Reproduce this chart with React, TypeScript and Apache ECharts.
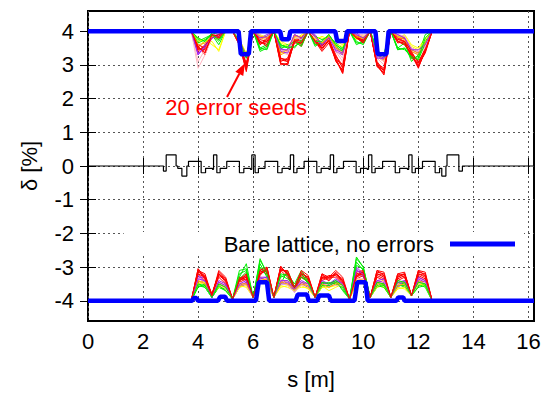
import React, { useEffect, useRef } from 'react';
import * as echarts from 'echarts';

const FONT = '"Liberation Sans", Arial, Helvetica, sans-serif';

const X_TICKS = [0, 2, 4, 6, 8, 10, 12, 14, 16];
const Y_TICKS = [-4, -3, -2, -1, 0, 1, 2, 3, 4];
const X_MIN = 0;
const X_MAX = 16.2;
const Y_MIN = -4.6;
const Y_MAX = 4.6;

const LEGEND_NAME = 'Bare lattice, no errors';
const ANNOTATION = '20 error seeds';
const ARROW_TIP = [5.7, 3.05];
const ARROW_TAIL = [5.05, 2.05];
const LABEL_AT = [5.38, 1.73];

// Bare lattice (no errors): momentum acceptance, upper and lower
const BARE_TOP = [
  [0, 4], [5.47, 4], [5.55, 3.32], [5.84, 3.32], [5.92, 4], [6.98, 4], [7.04, 3.76], [7.29, 3.76], [7.35, 4],
  [8.98, 4], [9.05, 3.71], [9.35, 3.71], [9.41, 4], [10.44, 4], [10.52, 3.32], [10.84, 3.32], [10.92, 4], [16.2, 4],
];
const BARE_BOTTOM = [
  [0, -4], [3.78, -4], [3.84, -3.92], [3.94, -3.92], [4.0, -4], [4.72, -4], [4.8, -3.88], [4.98, -3.88], [5.05, -4],
  [6.1, -4], [6.2, -3.45], [6.5, -3.45], [6.58, -4], [7.54, -4], [7.62, -3.81], [7.95, -3.81], [8.02, -4],
  [8.32, -4], [8.4, -3.84], [8.75, -3.84], [8.82, -4], [9.68, -4], [9.78, -3.45], [10.08, -3.45], [10.16, -4],
  [11.2, -4], [11.27, -3.9], [11.45, -3.9], [11.5, -4], [16.2, -4],
];

// Lattice layout (step line, value holds from s until next s)
const LATTICE = [
  [0, 0], [2.74, -0.15], [2.84, 0.33], [3.2, 0], [3.26, -0.07], [3.41, -0.3], [3.59, 0], [3.65, 0.14],
  [4.11, -0.2], [4.27, -0.07], [4.52, -0.1], [4.56, 0.33], [4.68, -0.2], [4.8, -0.07], [5.04, 0.14],
  [5.5, -0.2], [5.66, -0.07], [5.9, -0.1], [5.95, 0.33], [6.07, -0.2], [6.19, -0.07], [6.43, 0.14],
  [6.89, -0.2], [7.05, -0.07], [7.3, -0.1], [7.35, 0.33], [7.47, -0.2], [7.59, -0.07], [7.85, 0.14],
  [8.31, -0.2], [8.47, -0.07], [8.75, -0.1], [8.8, 0.33], [8.92, -0.2], [9.04, -0.07], [9.28, 0.14],
  [9.74, -0.2], [9.9, -0.07], [10.14, -0.1], [10.19, 0.33], [10.31, -0.2], [10.43, -0.07], [10.7, 0.14],
  [11.16, -0.2], [11.32, -0.07], [11.6, -0.1], [11.65, 0.33], [11.77, -0.2], [11.89, -0.07], [12.15, 0.14],
  [12.61, -0.2], [12.77, -0.07], [12.85, -0.3], [13.0, 0], [13.04, 0.33], [13.47, -0.15], [13.6, 0], [16.2, 0],
];

// Error seeds: sampled positions
const SEED_S = [
  3.75, 4.0, 4.25, 4.5, 4.75, 5.0, 5.25, 5.5, 5.75, 6.0, 6.25, 6.5, 6.75, 7.0, 7.25, 7.5, 7.75, 8.0,
  8.25, 8.5, 8.75, 9.0, 9.25, 9.5, 9.75, 10.0, 10.25, 10.5, 10.75, 11.0, 11.25, 11.5, 11.75, 12.0, 12.25, 12.5,
];

const SEED_COLORS = [
  '#ff0000', '#00ee00', '#a020f0', '#ffff00', '#ff0000', '#ffb6c1', '#ffa500', '#ff0000', '#00ee00', '#a020f0',
  '#ff0000', '#ffff00', '#ffb6c1', '#ff0000', '#00ee00', '#ffa500', '#ff0000', '#a020f0', '#00ee00', '#ff0000',
];

const SEED_TOP = [
  [4,3.55,3.3,3.85,3.9,4,4,3.6,2.8,4,3.7,3.6,4,3.05,3.0,3.75,3.6,4,3.75,3.5,3.7,3.2,2.75,4,3.9,3.7,4,3.0,2.75,4,3.7,3.6,3.3,2.95,3.4,4],
  [4,3.7,3.8,3.9,3.6,4,4,3.7,3.25,4,3.45,3.55,4,3.6,3.5,3.8,3.6,4,3.55,3.7,3.9,3.6,3.45,4,3.8,3.65,4,3.4,3.3,4,3.45,3.5,3.2,3.25,3.7,4],
  [4,3.35,3.5,3.9,3.8,4,4,3.7,3.3,4,3.8,3.9,4,3.5,3.4,3.9,3.8,4,3.9,3.6,3.8,3.5,3.4,4,3.9,3.75,4,3.3,3.2,4,3.9,3.8,3.5,3.4,3.6,4],
  [4,3.8,3.6,3.7,3.4,4,4,3.75,3.3,4,3.9,3.8,4,3.7,3.6,3.7,3.9,4,3.8,3.8,3.7,3.7,3.6,4,3.75,3.8,4,3.3,3.25,4,3.8,3.9,3.6,3.5,3.8,4],
  [4,3.4,3.6,3.8,3.85,4,4,3.65,3.0,4,3.75,3.7,4,3.2,3.15,3.8,3.7,4,3.8,3.45,3.75,3.3,2.9,4,3.85,3.8,4,2.95,2.85,4,3.8,3.7,3.2,3.05,3.5,4],
  [4,2.9,3.3,3.8,3.9,4,4,3.6,3.1,4,3.9,3.7,4,3.4,3.3,3.8,3.7,4,3.7,3.7,3.8,3.4,3.1,4,3.9,3.9,4,3.2,3.0,4,3.9,3.8,3.4,3.3,3.5,4],
  [4,3.5,3.7,3.9,3.8,4,4,3.7,3.25,4,3.8,3.75,4,3.3,3.4,3.9,3.8,4,3.8,3.6,3.9,3.5,3.3,4,3.9,3.85,4,3.25,3.1,4,3.85,3.8,3.4,3.3,3.6,4],
  [4,3.6,3.5,3.9,3.8,4,4,3.7,2.95,4,3.6,3.8,4,3.1,3.2,3.7,3.8,4,3.7,3.6,3.8,3.1,2.85,4,3.8,3.75,4,3.05,2.9,4,3.75,3.8,3.35,3.1,3.45,4],
  [4,3.75,3.7,3.95,3.9,4,4,3.7,3.2,4,3.5,3.6,4,3.55,3.6,3.5,3.75,4,3.85,3.75,3.85,3.65,3.5,4,3.6,3.7,4,3.35,3.35,4,3.5,3.65,3.1,3.3,3.9,4],
  [4,3.3,3.6,3.85,3.9,4,4,3.65,3.2,4,3.85,3.8,4,3.4,3.35,3.85,3.75,4,3.85,3.55,3.85,3.4,3.3,4,3.95,3.8,4,3.25,3.15,4,3.85,3.85,3.45,3.35,3.55,4],
  [4,3.5,3.4,3.85,3.95,4,4,3.6,3.05,4,3.65,3.65,4,3.15,3.1,3.65,3.65,4,3.65,3.5,3.75,3.25,3.0,4,3.85,3.65,4,3.1,2.8,4,3.65,3.7,3.25,3.0,3.35,4],
  [4,3.7,3.75,3.6,3.45,4,4,3.75,3.35,4,3.85,3.85,4,3.65,3.55,3.8,3.85,4,3.75,3.85,3.75,3.6,3.55,4,3.8,3.85,4,3.4,3.3,4,3.85,3.85,3.55,3.45,3.75,4],
  [4,3.1,3.45,3.85,3.95,4,4,3.65,3.15,4,3.85,3.75,4,3.45,3.4,3.85,3.75,4,3.8,3.65,3.85,3.45,3.2,4,3.9,3.85,4,3.25,3.1,4,3.9,3.85,3.5,3.4,3.55,4],
  [4,3.45,3.55,3.9,3.8,4,4,3.6,2.9,4,3.7,3.55,4,3.0,3.05,3.7,3.55,4,3.7,3.4,3.65,3.15,2.8,4,3.85,3.7,4,3.0,2.7,4,3.7,3.65,3.3,2.9,3.45,4],
  [4,3.65,3.75,3.9,3.7,4,4,3.7,3.3,4,3.4,3.5,4,3.5,3.55,3.7,3.55,4,3.6,3.65,3.85,3.55,3.4,4,3.7,3.6,4,3.45,3.25,4,3.5,3.45,3.25,3.15,3.65,4],
  [4,3.6,3.65,3.85,3.75,4,4,3.7,3.3,4,3.85,3.8,4,3.35,3.45,3.85,3.85,4,3.85,3.65,3.85,3.55,3.35,4,3.85,3.8,4,3.3,3.15,4,3.85,3.75,3.45,3.35,3.65,4],
  [4,3.5,3.45,3.8,3.9,4,4,3.65,3.0,4,3.6,3.75,4,3.2,3.1,3.75,3.7,4,3.7,3.55,3.8,3.2,2.95,4,3.8,3.7,4,3.0,2.85,4,3.75,3.7,3.4,3.05,3.4,4],
  [4,3.3,3.55,3.8,3.85,4,4,3.7,3.25,4,3.8,3.85,4,3.45,3.45,3.9,3.8,4,3.85,3.6,3.8,3.45,3.35,4,3.9,3.8,4,3.2,3.2,4,3.9,3.8,3.45,3.45,3.6,4],
  [4,3.8,3.7,3.9,3.75,4,4,3.7,3.2,4,3.5,3.45,4,3.6,3.5,3.55,3.7,4,3.7,3.7,3.9,3.6,3.45,4,3.65,3.65,4,3.4,3.3,4,3.45,3.5,3.2,3.2,3.8,4],
  [4,3.55,3.35,3.9,3.85,4,4,3.6,2.85,4,3.65,3.7,4,3.05,3.0,3.7,3.65,4,3.7,3.5,3.7,3.15,2.75,4,3.8,3.65,4,2.95,2.75,4,3.7,3.6,3.35,2.95,3.4,4],
];

const SEED_BOTTOM = [
  [-4,-3.2,-3.4,-3.85,-3.3,-3.5,-3.95,-3.4,-3.3,-3.9,-3.25,-3.0,-3.9,-3.0,-3.2,-3.7,-3.3,-3.45,-3.9,-3.4,-3.3,-3.3,-3.5,-3.95,-3.3,-3.2,-3.9,-3.3,-3.4,-3.9,-3.4,-3.3,-3.85,-3.3,-3.4,-4],
  [-4,-3.5,-3.6,-3.9,-3.6,-3.7,-3.95,-3.3,-2.9,-3.9,-2.75,-3.2,-3.9,-3.5,-3.1,-3.6,-3.2,-3.5,-3.9,-3.6,-3.5,-3.4,-3.7,-3.95,-2.7,-3.0,-3.9,-3.6,-3.5,-3.9,-3.5,-3.6,-3.85,-3.5,-3.6,-4],
  [-4,-3.3,-3.3,-3.9,-3.5,-3.6,-3.95,-3.6,-3.5,-3.9,-3.4,-3.35,-3.9,-3.5,-3.5,-3.75,-3.5,-3.6,-3.9,-3.5,-3.6,-3.45,-3.55,-3.95,-3.05,-3.3,-3.9,-3.45,-3.5,-3.9,-3.6,-3.45,-3.85,-3.4,-3.5,-4],
  [-4,-3.4,-3.55,-3.85,-3.55,-3.65,-3.95,-3.55,-3.6,-3.9,-3.4,-3.45,-3.9,-3.6,-3.55,-3.65,-3.6,-3.6,-3.9,-3.55,-3.7,-3.6,-3.5,-3.95,-3.45,-3.5,-3.9,-3.6,-3.55,-3.9,-3.65,-3.6,-3.85,-3.55,-3.45,-4],
  [-4,-3.05,-3.3,-3.8,-3.2,-3.4,-3.95,-3.45,-3.35,-3.9,-3.2,-3.1,-3.9,-3.1,-3.3,-3.65,-3.25,-3.35,-3.9,-3.3,-3.4,-3.2,-3.45,-3.95,-3.35,-3.25,-3.9,-3.2,-3.3,-3.9,-3.3,-3.2,-3.85,-3.2,-3.3,-4],
  [-4,-3.3,-3.5,-3.9,-3.55,-3.6,-3.95,-3.5,-3.5,-3.9,-3.35,-3.4,-3.9,-3.4,-3.5,-3.7,-3.5,-3.55,-3.9,-3.5,-3.55,-3.5,-3.6,-3.95,-3.3,-3.4,-3.9,-3.5,-3.45,-3.9,-3.55,-3.5,-3.85,-3.45,-3.5,-4],
  [-4,-3.45,-3.4,-3.9,-3.45,-3.55,-3.95,-3.6,-3.45,-3.9,-3.3,-3.4,-3.9,-3.45,-3.4,-3.7,-3.45,-3.5,-3.9,-3.45,-3.5,-3.45,-3.55,-3.95,-3.4,-3.35,-3.9,-3.45,-3.4,-3.9,-3.5,-3.45,-3.85,-3.4,-3.45,-4],
  [-4,-3.15,-3.25,-3.85,-3.15,-3.35,-3.95,-3.35,-3.25,-3.9,-3.05,-3.15,-3.9,-3.05,-3.15,-3.6,-3.2,-3.3,-3.9,-3.25,-3.35,-3.15,-3.4,-3.95,-3.2,-3.15,-3.9,-3.15,-3.2,-3.9,-3.25,-3.2,-3.85,-3.15,-3.2,-4],
  [-4,-3.55,-3.6,-3.9,-3.6,-3.65,-3.95,-3.1,-3.05,-3.9,-2.9,-3.3,-3.9,-3.3,-3.2,-3.5,-3.1,-3.4,-3.9,-3.5,-3.45,-3.5,-3.6,-3.95,-2.85,-3.1,-3.9,-3.5,-3.55,-3.9,-3.45,-3.5,-3.85,-3.55,-3.5,-4],
  [-4,-3.25,-3.45,-3.9,-3.45,-3.55,-3.95,-3.55,-3.45,-3.9,-3.35,-3.3,-3.9,-3.45,-3.45,-3.7,-3.45,-3.55,-3.9,-3.45,-3.55,-3.4,-3.5,-3.95,-3.0,-3.2,-3.9,-3.4,-3.45,-3.9,-3.55,-3.4,-3.85,-3.35,-3.45,-4],
  [-4,-3.1,-3.35,-3.85,-3.25,-3.4,-3.95,-3.4,-3.3,-3.9,-3.15,-3.05,-3.9,-2.97,-3.25,-3.65,-3.3,-3.4,-3.9,-3.35,-3.25,-3.25,-3.45,-3.95,-3.25,-3.2,-3.9,-3.25,-3.35,-3.9,-3.35,-3.25,-3.85,-3.25,-3.35,-4],
  [-4,-3.5,-3.45,-3.85,-3.6,-3.6,-3.95,-3.6,-3.55,-3.9,-3.45,-3.5,-3.9,-3.55,-3.6,-3.7,-3.55,-3.65,-3.9,-3.6,-3.6,-3.55,-3.55,-3.95,-3.5,-3.45,-3.9,-3.55,-3.6,-3.9,-3.6,-3.65,-3.85,-3.5,-3.55,-4],
  [-4,-3.35,-3.55,-3.9,-3.5,-3.65,-3.95,-3.45,-3.55,-3.9,-3.4,-3.35,-3.9,-3.35,-3.55,-3.75,-3.55,-3.5,-3.9,-3.55,-3.5,-3.55,-3.55,-3.95,-3.35,-3.35,-3.9,-3.55,-3.4,-3.9,-3.5,-3.55,-3.85,-3.5,-3.45,-4],
  [-4,-3.2,-3.3,-3.8,-3.2,-3.45,-3.95,-3.3,-3.4,-3.9,-3.1,-3.2,-3.9,-3.1,-3.1,-3.6,-3.15,-3.35,-3.9,-3.2,-3.4,-3.2,-3.35,-3.95,-3.3,-3.1,-3.9,-3.1,-3.25,-3.9,-3.2,-3.3,-3.85,-3.1,-3.25,-4],
  [-4,-3.6,-3.5,-3.9,-3.55,-3.7,-3.95,-3.35,-3.15,-3.9,-3.0,-3.25,-3.9,-3.25,-3.35,-3.55,-3.3,-3.45,-3.9,-3.55,-3.55,-3.45,-3.65,-3.95,-2.95,-3.05,-3.9,-3.55,-3.6,-3.9,-3.55,-3.55,-3.85,-3.6,-3.55,-4],
  [-4,-3.4,-3.5,-3.85,-3.5,-3.6,-3.95,-3.5,-3.5,-3.9,-3.4,-3.35,-3.9,-3.45,-3.5,-3.65,-3.5,-3.55,-3.9,-3.5,-3.6,-3.5,-3.5,-3.95,-3.4,-3.4,-3.9,-3.5,-3.5,-3.9,-3.55,-3.5,-3.85,-3.45,-3.5,-4],
  [-4,-3.1,-3.2,-3.85,-3.1,-3.3,-3.95,-3.35,-3.2,-3.9,-3.1,-3.0,-3.9,-3.05,-3.2,-3.6,-3.1,-3.25,-3.9,-3.2,-3.3,-3.1,-3.3,-3.95,-3.15,-3.1,-3.9,-3.1,-3.15,-3.9,-3.2,-3.15,-3.85,-3.1,-3.15,-4],
  [-4,-3.35,-3.4,-3.9,-3.4,-3.5,-3.95,-3.5,-3.4,-3.9,-3.3,-3.3,-3.9,-3.4,-3.4,-3.65,-3.4,-3.5,-3.9,-3.4,-3.5,-3.35,-3.5,-3.95,-3.1,-3.2,-3.9,-3.4,-3.35,-3.9,-3.45,-3.4,-3.85,-3.3,-3.4,-4],
  [-4,-3.5,-3.55,-3.9,-3.5,-3.6,-3.95,-3.2,-3.1,-3.9,-2.8,-3.15,-3.9,-3.2,-3.25,-3.6,-3.2,-3.45,-3.9,-3.45,-3.5,-3.4,-3.55,-3.95,-2.75,-3.0,-3.9,-3.45,-3.5,-3.9,-3.4,-3.45,-3.85,-3.45,-3.5,-4],
  [-4,-3.05,-3.35,-3.85,-3.2,-3.35,-3.95,-3.4,-3.25,-3.9,-3.2,-3.05,-3.9,-3.0,-3.2,-3.6,-3.2,-3.3,-3.9,-3.3,-3.3,-3.2,-3.4,-3.95,-3.25,-3.15,-3.9,-3.2,-3.25,-3.9,-3.3,-3.2,-3.85,-3.2,-3.25,-4],
];

export default function App() {
  const ref = useRef<HTMLDivElement>(null);

  useEffect(() => {
    if (!ref.current) return;
    const chart = echarts.init(ref.current, undefined, { renderer: 'svg' });

    const seedSeries: any[] = [];
    SEED_TOP.forEach((vals, i) => {
      seedSeries.push({
        name: 'seed' + (i + 1) + 'top',
        type: 'line',
        data: SEED_S.map((s, j) => [s, vals[j]]),
        symbol: 'none',
        lineStyle: { color: SEED_COLORS[i], width: 1 },
        z: 2,
        silent: true,
      });
    });
    SEED_BOTTOM.forEach((vals, i) => {
      seedSeries.push({
        name: 'seed' + (i + 1) + 'bottom',
        type: 'line',
        data: SEED_S.map((s, j) => [s, vals[j]]),
        symbol: 'none',
        lineStyle: { color: SEED_COLORS[i], width: 1 },
        z: 2,
        silent: true,
      });
    });

    const axisText = { fontSize: 22, color: '#000', fontFamily: FONT };
    const gridLine = { show: true, lineStyle: { color: '#555', width: 1, type: [2, 3] } };

    chart.setOption({
      animation: false,
      backgroundColor: '#fff',
      grid: { left: 88, right: 12, top: 11, bottom: 66, show: true, borderColor: '#000', borderWidth: 2, backgroundColor: 'transparent' },
      legend: {
        data: [LEGEND_NAME],
        right: 22,
        top: 232,
        align: 'right',
        backgroundColor: '#fff',
        padding: [1, 9, 1, 100],
        itemWidth: 65,
        itemHeight: 5,
        icon: 'rect',
        textStyle: { fontSize: 22, color: '#000', fontFamily: FONT, padding: [0, 11, 0, 0] },
      },
      xAxis: [
        {
          type: 'value', min: X_MIN, max: X_MAX, interval: 2, position: 'bottom',
          name: 's [m]', nameLocation: 'middle', nameGap: 47, nameTextStyle: axisText,
          axisLine: { show: false },
          axisTick: { show: true, inside: true, length: 8, customValues: X_TICKS, lineStyle: { color: '#000', width: 1 } },
          axisLabel: { customValues: X_TICKS, margin: 9, ...axisText },
          splitLine: gridLine,
        },
        {
          type: 'value', min: X_MIN, max: X_MAX, interval: 2, position: 'top',
          axisLine: { show: false },
          axisTick: { show: true, inside: true, length: 8, customValues: X_TICKS, lineStyle: { color: '#000', width: 1 } },
          axisLabel: { show: false },
          splitLine: { show: false },
        },
      ],
      yAxis: [
        {
          type: 'value', min: Y_MIN, max: Y_MAX, position: 'left',
          name: 'δ [%]', nameLocation: 'middle', nameGap: 48, nameTextStyle: axisText,
          axisLine: { show: false },
          axisTick: { show: true, inside: true, length: 8, customValues: Y_TICKS, lineStyle: { color: '#000', width: 1 } },
          axisLabel: { customValues: Y_TICKS, margin: 14, ...axisText },
          splitLine: gridLine,
        },
        {
          type: 'value', min: Y_MIN, max: Y_MAX, position: 'right',
          axisLine: { show: false },
          axisTick: { show: true, inside: true, length: 8, customValues: Y_TICKS, lineStyle: { color: '#000', width: 1 } },
          axisLabel: { show: false },
          splitLine: { show: false },
        },
      ],
      series: [
        ...seedSeries,
        {
          name: 'lattice',
          type: 'line',
          step: 'end',
          data: LATTICE,
          symbol: 'none',
          lineStyle: { color: '#000', width: 1.2 },
          z: 3,
          silent: true,
        },
        {
          name: LEGEND_NAME,
          type: 'line',
          data: BARE_TOP,
          symbol: 'none',
          color: '#0000ff',
          lineStyle: { color: '#0000ff', width: 4.5 },
          z: 4,
          silent: true,
        },
        {
          name: LEGEND_NAME,
          type: 'line',
          data: BARE_BOTTOM,
          symbol: 'none',
          color: '#0000ff',
          lineStyle: { color: '#0000ff', width: 4.5 },
          z: 4,
          silent: true,
        },
      ],
    });

    const tip = chart.convertToPixel({ xAxisIndex: 0, yAxisIndex: 0 }, ARROW_TIP) as number[];
    const tail = chart.convertToPixel({ xAxisIndex: 0, yAxisIndex: 0 }, ARROW_TAIL) as number[];
    const lab = chart.convertToPixel({ xAxisIndex: 0, yAxisIndex: 0 }, LABEL_AT) as number[];
    const dx = tip[0] - tail[0];
    const dy = tip[1] - tail[1];
    const len = Math.sqrt(dx * dx + dy * dy);
    const ux = dx / len, uy = dy / len;
    const headLen = 12, headHalf = 4.5;
    const bx = tip[0] - ux * headLen, by = tip[1] - uy * headLen;
    const nx = -uy, ny = ux;

    chart.setOption({
      graphic: [
        {
          type: 'line', z: 10,
          shape: { x1: tail[0], y1: tail[1], x2: bx, y2: by },
          style: { stroke: '#ff0000', lineWidth: 2 },
        },
        {
          type: 'polygon', z: 10,
          shape: { points: [[tip[0], tip[1]], [bx + nx * headHalf, by + ny * headHalf], [bx - nx * headHalf, by - ny * headHalf]] },
          style: { fill: '#ff0000' },
        },
        {
          type: 'text', z: 10, x: lab[0], y: lab[1],
          style: { text: ANNOTATION, fill: '#ff0000', font: '22px ' + FONT, align: 'center', verticalAlign: 'middle' },
        },
      ],
    });

    return () => chart.dispose();
  }, []);

  return <div ref={ref} style={{ position: 'absolute', left: 0, top: 0, width: 546, height: 395 }} />;
}
